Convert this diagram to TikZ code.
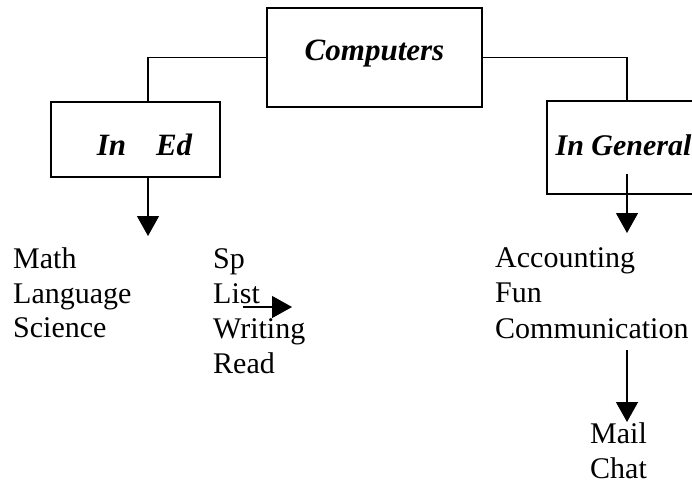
\documentclass[tikz,border=0pt]{standalone}
\usepackage{fontspec}
\setmainfont{Liberation Serif}
\usetikzlibrary{arrows.meta}
\tikzset{
  box/.style={draw, line width=1.3pt, inner sep=0pt, font=\fontsize{31}{35}\selectfont\bfseries\itshape},
  item/.style={anchor=base west, inner sep=0pt, font=\fontsize{30}{35}\selectfont},
  conn/.style={line width=1.2pt},
  arr/.style={line width=1.3pt, -{Triangle[width=22pt,length=20pt]}},
}
\begin{document}
\begin{tikzpicture}[x=1pt,y=-1pt]
\useasboundingbox (0,0) rectangle (692,485);
% boxes
\node[box, minimum width=215pt, minimum height=99pt, text height=15pt, text depth=10pt] (comp) at (374.5,57.5) {Computers};
\node[box, minimum width=169pt, minimum height=75pt, text height=31pt, text depth=0pt] (ined) at (135.5,139.5) {\hspace{18pt}In\hspace{30pt}Ed};
\node[box, minimum width=153pt, minimum height=93pt, text height=20pt, text depth=5pt, font=\fontsize{30}{35}\selectfont\bfseries\itshape] (ingen) at (623.5,147.5) {In General\hspace{8pt}};
% connectors
\draw[conn] (comp.west) -| ([xshift=12.5pt]ined.north);
\draw[conn] (comp.east) -| ([xshift=3.5pt]ingen.north);
% list texts
\node[item] (math) at (13,268) {Math};
\node[item] (lang) at (13,303) {Language};
\node[item] (sci) at (13,337) {Science};
\node[item] (sp) at (213,268) {Sp};
\node[item] (list) at (213,303) {List};
\node[item] (writ) at (213,338) {Writing};
\node[item] (read) at (213,373) {Read};
\node[item] (acc) at (495,267) {Accounting};
\node[item] (fun) at (495,302) {Fun};
\node[item] (com) at (495,338) {Communication};
\node[item] (mail) at (590,443) {Mail};
\node[item] (chat) at (590,478) {Chat};
% arrows
\coordinate (t1) at (148,236);
\coordinate (t2) at (627,233);
\coordinate (s3) at (243,307);
\coordinate (t3) at (292,307);
\coordinate (s4) at (627,350);
\coordinate (t4) at (627,422);
\draw[arr] ([xshift=12.5pt]ined.south) -- (t1);
\draw[arr] ([xshift=3.5pt,yshift=21pt]ingen.south) -- (t2);
\draw[arr] (s3) -- (t3);
\draw[arr] (s4) -- (t4);
\end{tikzpicture}
\end{document}
